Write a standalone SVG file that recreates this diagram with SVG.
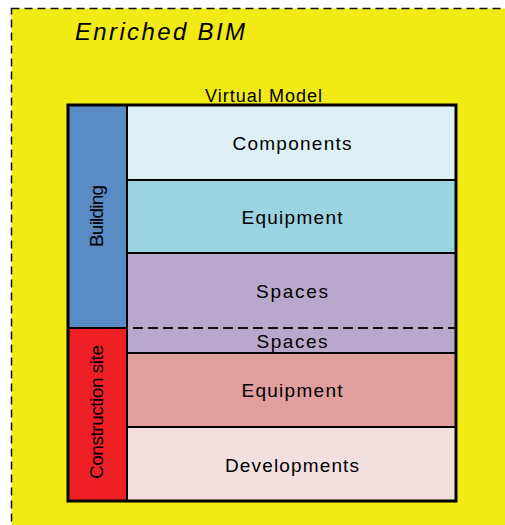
<svg xmlns="http://www.w3.org/2000/svg" width="505" height="525" viewBox="0 0 505 525">
<style>
text{font-family:"Liberation Sans",Arial,sans-serif;fill:#000}
.lbl{font-size:19px;text-anchor:middle}
.row{stroke:#000;stroke-width:2}
</style>
<rect x="0" y="0" width="505" height="525" fill="#fff"/>
<g id="enriched-bim">
<rect x="11.5" y="8.5" width="500" height="530" fill="#F2EA14" stroke="#111" stroke-width="1.5" stroke-dasharray="8,5"/>
<text x="75" y="40" font-size="24" font-style="italic" textLength="170" lengthAdjust="spacing">Enriched BIM</text>
</g>
<g id="virtual-model">
<text x="205" y="102" font-size="18" textLength="117" lengthAdjust="spacing">Virtual Model</text>
</g>
<g id="components">
<rect class="row" x="127" y="105" width="329" height="75" fill="#DDF0F5"/>
<text class="lbl" x="292" y="150" textLength="119" lengthAdjust="spacing">Components</text>
</g>
<g id="equipment-building">
<rect class="row" x="127" y="180" width="329" height="73" fill="#9BD3E0"/>
<text class="lbl" x="292" y="224" textLength="101" lengthAdjust="spacing">Equipment</text>
</g>
<g id="spaces">
<rect class="row" x="127" y="253" width="329" height="100" fill="#B8A8CC"/>
<line x1="133" y1="328" x2="456" y2="328" stroke="#111" stroke-width="2" stroke-dasharray="10,5"/>
<text class="lbl" x="292" y="298" textLength="72" lengthAdjust="spacing">Spaces</text>
<text class="lbl" x="292" y="348" textLength="71" lengthAdjust="spacing">Spaces</text>
</g>
<g id="equipment-site">
<rect class="row" x="127" y="353" width="329" height="74" fill="#E09E9C"/>
<text class="lbl" x="292" y="397" textLength="101" lengthAdjust="spacing">Equipment</text>
</g>
<g id="developments">
<rect class="row" x="127" y="427" width="329" height="74" fill="#F3DFE0"/>
<text class="lbl" x="292" y="472" textLength="134" lengthAdjust="spacing">Developments</text>
</g>
<g id="building">
<rect x="68" y="105" width="59" height="223" fill="#5B8BC5" stroke="#000" stroke-width="2"/>
<text class="lbl" font-size="18" transform="translate(103,216) rotate(-90)" textLength="62" lengthAdjust="spacing">Building</text>
</g>
<g id="construction-site">
<rect x="68" y="328" width="59" height="173" fill="#EE2026" stroke="#000" stroke-width="2"/>
<text class="lbl" font-size="18" transform="translate(103,412) rotate(-90)" textLength="134" lengthAdjust="spacing">Construction site</text>
</g>
<g id="connectors">
<rect x="68" y="105" width="388" height="396" fill="none" stroke="#000" stroke-width="3"/>
</g>
</svg>
